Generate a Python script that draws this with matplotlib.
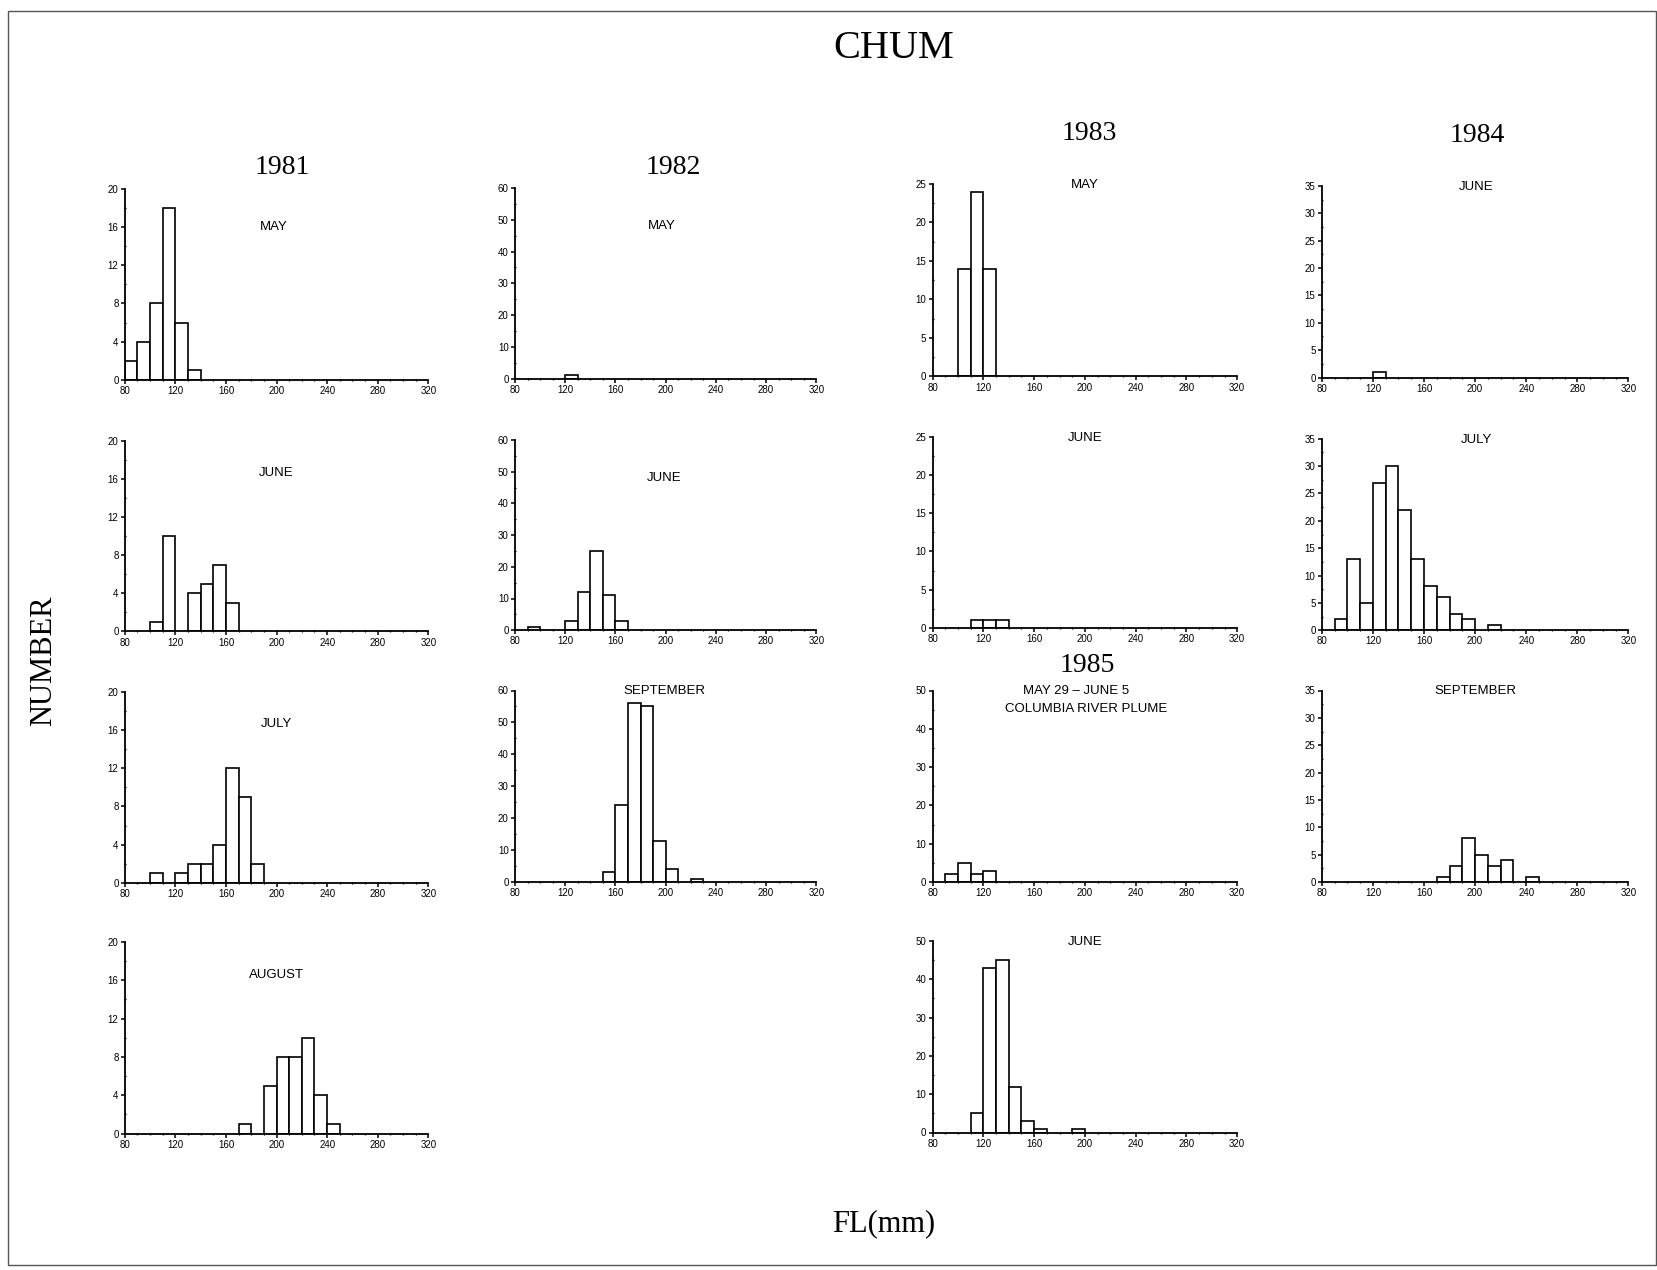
import os

os.environ.setdefault("MPLCONFIGDIR", "/tmp/matplotlib")
import matplotlib

matplotlib.use("Agg", force=True)
import matplotlib.pyplot as plt
from matplotlib.patches import Rectangle
from matplotlib.ticker import MultipleLocator

# lower bin edge (mm) and counts for each panel; bins are 10 mm wide
may81_bins = [80, 90, 100, 110, 120, 130]
may81_counts = [2, 4, 8, 18, 6, 1]
jun81_bins = [100, 110, 130, 140, 150, 160]
jun81_counts = [1, 10, 4, 5, 7, 3]
jul81_bins = [100, 120, 130, 140, 150, 160, 170, 180]
jul81_counts = [1, 1, 2, 2, 4, 12, 9, 2]
aug81_bins = [170, 190, 200, 210, 220, 230, 240]
aug81_counts = [1, 5, 8, 8, 10, 4, 1]

may82_bins = [120]
may82_counts = [1]
jun82_bins = [90, 120, 130, 140, 150, 160]
jun82_counts = [1, 3, 12, 25, 11, 3]
sep82_bins = [150, 160, 170, 180, 190, 200, 220]
sep82_counts = [3, 24, 56, 55, 13, 4, 1]

may83_bins = [100, 110, 120]
may83_counts = [14, 24, 14]
jun83_bins = [110, 120, 130]
jun83_counts = [1, 1, 1]
plume85_bins = [90, 100, 110, 120]
plume85_counts = [2, 5, 2, 3]
jun85_bins = [110, 120, 130, 140, 150, 160, 190]
jun85_counts = [5, 43, 45, 12, 3, 1, 1]

jun84_bins = [120]
jun84_counts = [1]
jul84_bins = [90, 100, 110, 120, 130, 140, 150, 160, 170, 180, 190, 210]
jul84_counts = [2, 13, 5, 27, 30, 22, 13, 8, 6, 3, 2, 1]
sep84_bins = [170, 180, 190, 200, 210, 220, 240]
sep84_counts = [1, 3, 8, 5, 3, 4, 1]

x_ticks = [80, 120, 160, 200, 240, 280, 320]

W, H = 1658, 1270
SERIF = ["Liberation Serif", "DejaVu Serif"]
SANS = ["Liberation Sans", "DejaVu Sans"]

fig = plt.figure(figsize=(W / 100, H / 100), dpi=100)
fig.patch.set_facecolor("white")


def add_panel(box, bins, counts, ymax, ystep, label, lx=0.5, ly=0.83, label_va="center"):
    x0, y0, x1, y1 = box
    ax = fig.add_axes([x0 / W, 1 - y1 / H, (x1 - x0) / W, (y1 - y0) / H])
    ax.bar(bins, counts, width=10, align="edge", facecolor="white",
           edgecolor="black", linewidth=1.2, zorder=3)
    ax.set_xlim(80, 320)
    ax.set_ylim(0, ymax)
    ax.set_xticks(x_ticks)
    ax.set_yticks(range(0, ymax + 1, ystep))
    ax.xaxis.set_minor_locator(MultipleLocator(10))
    ax.yaxis.set_minor_locator(MultipleLocator(ystep / 2))
    for side in ("top", "right"):
        ax.spines[side].set_visible(False)
    for side in ("left", "bottom"):
        ax.spines[side].set_linewidth(1.3)
        ax.spines[side].set_zorder(4)
    ax.tick_params(which="major", length=3, width=1.1, direction="out",
                   labelsize=7, pad=1.5)
    ax.tick_params(which="minor", length=2, width=0.9, direction="inout")
    for t in ax.get_xticklabels() + ax.get_yticklabels():
        t.set_family(SANS)
    ax.text(lx, ly, label, transform=ax.transAxes, ha="center", va=label_va,
            fontsize=9.5, family=SANS)
    ax.patch.set_alpha(0)
    return ax


c1, c2, c3, c4 = (124.8, 428.3), (515.0, 816.3), (932.6, 1237.2), (1321.8, 1628.4)

# 1981
add_panel((c1[0], 189.3, c1[1], 379.6), may81_bins, may81_counts, 20, 4, "MAY", 0.49, 0.80)
add_panel((c1[0], 441.0, c1[1], 631.3), jun81_bins, jun81_counts, 20, 4, "JUNE", 0.5, 0.833)
add_panel((c1[0], 691.5, c1[1], 883.0), jul81_bins, jul81_counts, 20, 4, "JULY", 0.5, 0.83)
add_panel((c1[0], 942.0, c1[1], 1133.5), aug81_bins, aug81_counts, 20, 4, "AUGUST", 0.5, 0.83)

# 1982
add_panel((c2[0], 188.2, c2[1], 378.5), may82_bins, may82_counts, 60, 10, "MAY", 0.488, 0.80)
add_panel((c2[0], 440.0, c2[1], 630.2), jun82_bins, jun82_counts, 60, 10, "JUNE", 0.495, 0.80)
add_panel((c2[0], 690.5, c2[1], 882.0), sep82_bins, sep82_counts, 60, 10, "SEPTEMBER", 0.495, 0.995)

# 1983 / 1985
add_panel((c3[0], 184.0, c3[1], 376.4), may83_bins, may83_counts, 25, 5, "MAY", 0.5, 0.995)
add_panel((c3[0], 436.7, c3[1], 628.0), jun83_bins, jun83_counts, 25, 5, "JUNE", 0.5, 0.995)
ax_pl = add_panel((c3[0], 690.5, c3[1], 882.0), plume85_bins, plume85_counts, 50, 10,
                  "MAY 29 \u2013 JUNE 5", 0.47, 0.995)
ax_pl.text(0.503, 0.906, "COLUMBIA RIVER PLUME", transform=ax_pl.transAxes,
           ha="center", va="center", fontsize=9.5, family=SANS)
add_panel((c3[0], 941.0, c3[1], 1132.5), jun85_bins, jun85_counts, 50, 10, "JUNE", 0.5, 0.995)

# 1984
add_panel((c4[0], 186.0, c4[1], 377.5), jun84_bins, jun84_counts, 35, 5, "JUNE", 0.503, 0.995)
add_panel((c4[0], 438.8, c4[1], 630.2), jul84_bins, jul84_counts, 35, 5, "JULY", 0.503, 0.995)
add_panel((c4[0], 690.5, c4[1], 882.0), sep84_bins, sep84_counts, 35, 5, "SEPTEMBER", 0.5, 1.0)


def fig_text(x, y, s, size, **kw):
    fig.text(x / W, 1 - y / H, s, ha="center", va="center", fontsize=size,
             family=SERIF, **kw)


fig_text(893.5, 48, "CHUM", 29)
fig_text(282, 167, "1981", 20)
fig_text(673.5, 167, "1982", 20)
fig_text(1089, 133, "1983", 20)
fig_text(1477, 135, "1984", 20)
fig_text(1087, 666, "1985", 20)
fig_text(44, 661, "NUMBER", 22, rotation=90)
fig_text(884, 1224, "FL(mm)", 22)

# page frame
fig.patches.append(Rectangle((8.5 / W, 1 - 1265 / H), (1656 - 8.5) / W, (1265 - 10.5) / H,
                             transform=fig.transFigure, fill=False,
                             edgecolor="#555555", linewidth=1.0))

fig.savefig("out.png", dpi=100, facecolor="white")
plt.close(fig)
